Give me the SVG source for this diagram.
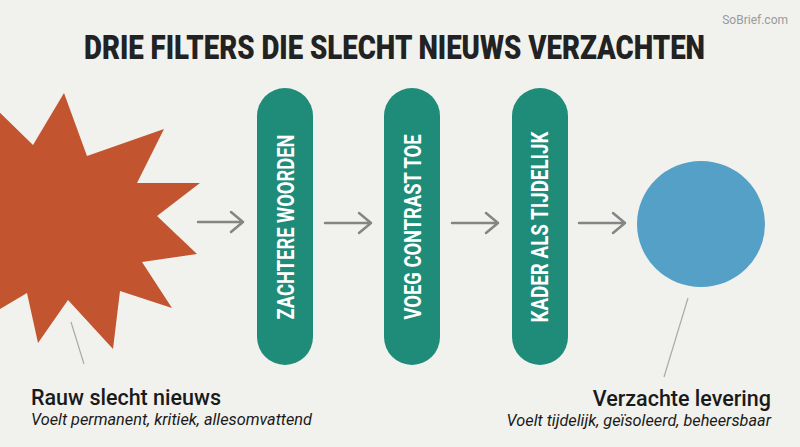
<svg xmlns="http://www.w3.org/2000/svg" width="800" height="447" viewBox="0 0 800 447">
  <defs>
    <style>
      .title { font-family: Roboto, "Liberation Sans", sans-serif; font-weight: 900; font-size: 26px; fill: #222222; }
      .pilltxt { font-family: Roboto, "Liberation Sans", sans-serif; font-weight: 700; font-size: 24px; fill: #FFFFFF; text-anchor: middle; }
      .pill { fill: #1F8C79; }
      .arrow { fill: none; stroke: #858585; stroke-width: 2.5; stroke-linecap: round; stroke-linejoin: round; }
      .pointer { fill: none; stroke: #AAAAAA; stroke-width: 1.2; }
      .lbl { font-family: Roboto, "Liberation Sans", sans-serif; font-weight: 500; font-size: 21.5px; fill: #1A1A1A; }
      .sub { font-family: Roboto, "Liberation Sans", sans-serif; font-style: italic; font-size: 16.3px; fill: #1A1A1A; }
      .brand { font-family: Roboto, "Liberation Sans", sans-serif; font-size: 12px; fill: #9A9A9A; }
    </style>
  </defs>
  <rect x="0" y="0" width="800" height="447" fill="#F1F1ED"/>
  <text class="brand" x="788" y="24" text-anchor="end">SoBrief.com</text>
  <text class="title" transform="translate(84,59) scale(1,1.27)" x="0" y="0" textLength="621" lengthAdjust="spacingAndGlyphs">DRIE FILTERS DIE SLECHT NIEUWS VERZACHTEN</text>

  <g id="raw-news">
    <polygon fill="#C2552F" points="-5,108 33,145 64,93 87,156 164,129 137,183 200,183 157,216 197,254 142,262 172,308 120,291 113,349 68,300 38,343 27,293 -5,312"/>
    <line class="pointer" x1="71" y1="322" x2="84" y2="364"/>
    <text class="lbl" x="31" y="405">Rauw slecht nieuws</text>
    <text class="sub" x="31" y="425">Voelt permanent, kritiek, allesomvattend</text>
  </g>

  <g id="filter-1">
    <rect class="pill" x="257" y="88" width="56" height="277" rx="28"/>
    <text class="pilltxt" transform="translate(294,227) rotate(-90)" textLength="185" lengthAdjust="spacingAndGlyphs">ZACHTERE WOORDEN</text>
  </g>
  <g id="filter-2">
    <rect class="pill" x="384" y="88" width="56" height="277" rx="28"/>
    <text class="pilltxt" transform="translate(421,227) rotate(-90)" textLength="185" lengthAdjust="spacingAndGlyphs">VOEG CONTRAST TOE</text>
  </g>
  <g id="filter-3">
    <rect class="pill" x="512" y="88" width="56" height="277" rx="28"/>
    <text class="pilltxt" transform="translate(548,227) rotate(-90)" textLength="191" lengthAdjust="spacingAndGlyphs">KADER ALS TIJDELIJK</text>
  </g>

  <g id="soft-delivery">
    <ellipse cx="701" cy="224" rx="64" ry="63" fill="#55A0C6"/>
    <line class="pointer" x1="688" y1="298" x2="664" y2="377"/>
    <text class="lbl" x="771" y="406" text-anchor="end">Verzachte levering</text>
    <text class="sub" x="771" y="426" text-anchor="end">Voelt tijdelijk, geïsoleerd, beheersbaar</text>
  </g>

  <g id="connectors">
    <path class="arrow" d="M198,222 H243 M231,212 L243,222 L231,232"/>
    <path class="arrow" d="M325,223 H371 M359,213 L371,223 L359,233"/>
    <path class="arrow" d="M452,223 H498 M486,213 L498,223 L486,233"/>
    <path class="arrow" d="M579,223 H625 M613,213 L625,223 L613,233"/>
  </g>
</svg>
